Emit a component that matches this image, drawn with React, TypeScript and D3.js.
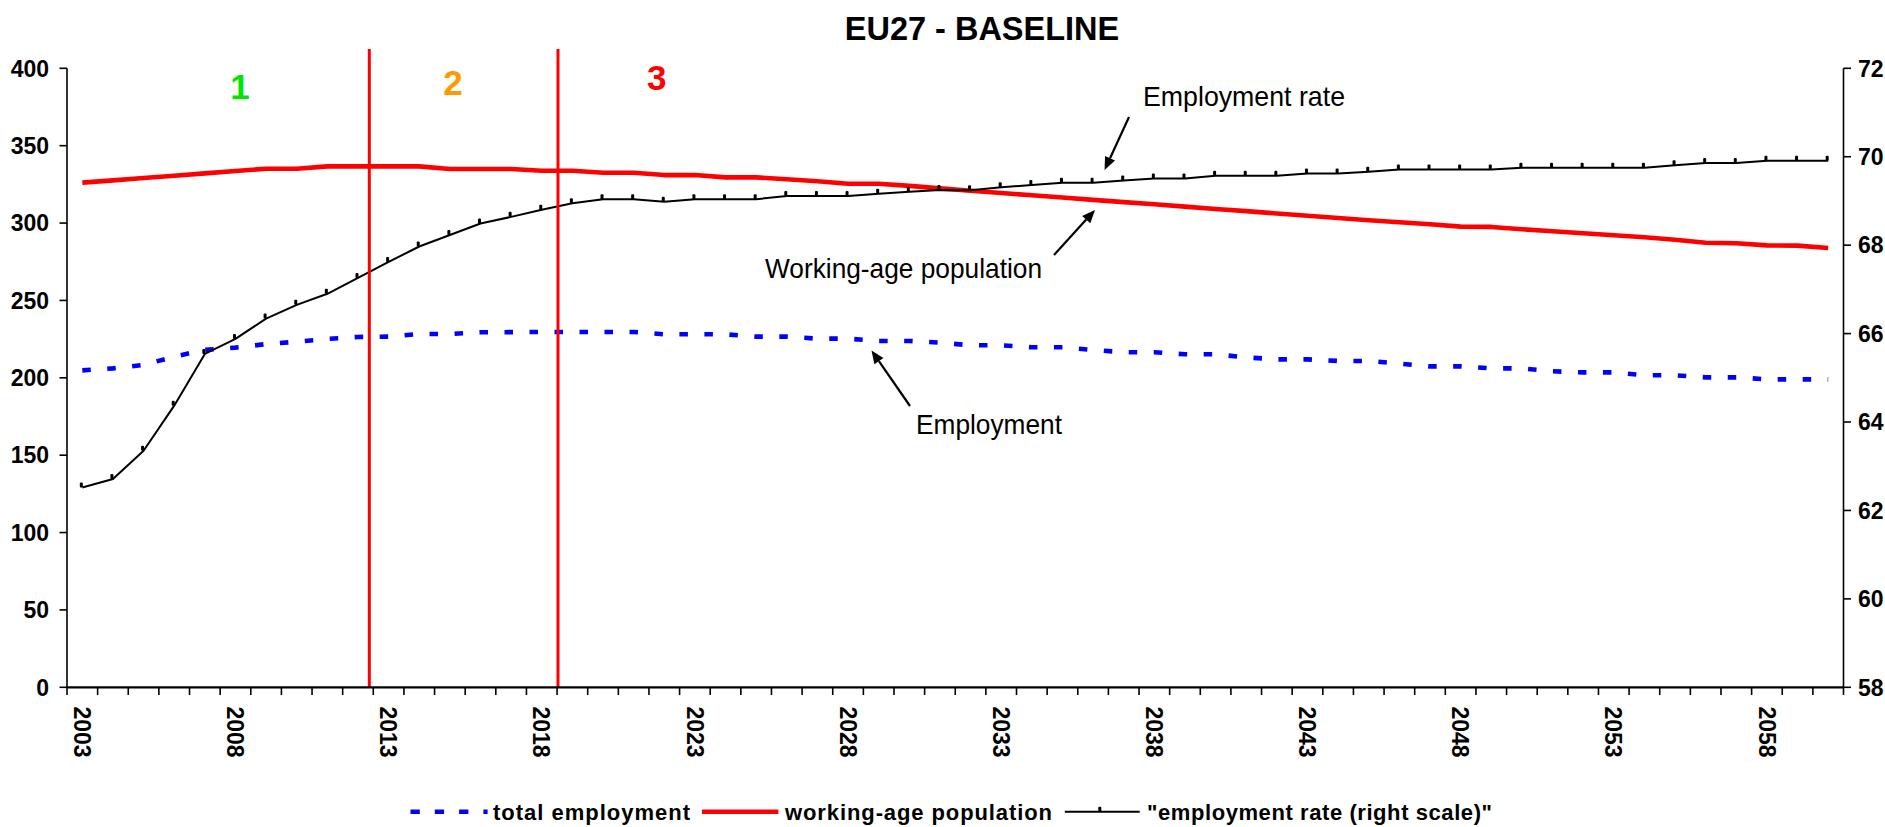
import React, { useEffect } from "react";
import * as d3 from "d3";

// ---------- DATA ----------
const years: number[] = [
  2003, 2004, 2005, 2006, 2007, 2008, 2009, 2010, 2011, 2012,
  2013, 2014, 2015, 2016, 2017, 2018, 2019, 2020, 2021, 2022,
  2023, 2024, 2025, 2026, 2027, 2028, 2029, 2030, 2031, 2032,
  2033, 2034, 2035, 2036, 2037, 2038, 2039, 2040, 2041, 2042,
  2043, 2044, 2045, 2046, 2047, 2048, 2049, 2050, 2051, 2052,
  2053, 2054, 2055, 2056, 2057, 2058, 2059, 2060,
];

// total employment (millions, left scale)
const totalEmployment: number[] = [
  204.8, 206.1, 208.3, 213.7, 218.0, 219.5, 221.8, 223.3, 225.1, 226.4,
  226.6, 228.3, 228.3, 229.4, 229.5, 229.6, 229.6, 229.6, 229.6, 228.1,
  228.1, 228.1, 226.6, 226.6, 225.3, 225.3, 223.8, 223.8, 222.7, 221.0,
  221.0, 219.7, 219.7, 218.0, 216.5, 216.5, 215.2, 215.2, 213.2, 211.9,
  211.9, 210.9, 210.9, 209.1, 207.4, 207.4, 206.1, 206.1, 204.2, 203.5,
  203.5, 201.6, 201.6, 200.3, 200.3, 199.0, 199.0, 199.0,
];

// working-age population (millions, left scale)
const workingAgePopulation: number[] = [
  326.1, 327.6, 329.1, 330.6, 332.1, 333.6, 335.1, 335.1, 336.6, 336.6,
  336.6, 336.6, 334.9, 334.9, 334.9, 333.8, 333.8, 332.5, 332.5, 331.0,
  331.0, 329.5, 329.5, 328.3, 327.0, 325.4, 325.4, 324.0, 322.4, 320.9,
  319.4, 318.0, 316.5, 315.0, 313.5, 312.1, 310.6, 309.1, 307.7, 306.2,
  304.7, 303.3, 301.8, 300.5, 299.2, 297.7, 297.5, 296.0, 294.7, 293.4,
  292.1, 290.8, 289.2, 287.3, 286.9, 285.6, 285.4, 283.9,
];

// employment rate (%, right scale)
const employmentRate: number[] = [
  62.52, 62.71, 63.35, 64.37, 65.54, 65.88, 66.34, 66.65, 66.90, 67.26,
  67.62, 67.97, 68.23, 68.49, 68.64, 68.80, 68.95, 69.04, 69.04, 68.98,
  69.04, 69.04, 69.04, 69.11, 69.11, 69.11, 69.16, 69.21, 69.25, 69.24,
  69.31, 69.36, 69.41, 69.41, 69.46, 69.51, 69.51, 69.57, 69.57, 69.57,
  69.62, 69.62, 69.66, 69.71, 69.71, 69.71, 69.71, 69.75, 69.75, 69.75,
  69.75, 69.75, 69.81, 69.86, 69.86, 69.91, 69.91, 69.91,
];

const leftTicks: number[] = [0, 50, 100, 150, 200, 250, 300, 350, 400];
const rightTicks: number[] = [58, 60, 62, 64, 66, 68, 70, 72];
const xLabelYears: number[] = [2003, 2008, 2013, 2018, 2023, 2028, 2033, 2038, 2043, 2048, 2053, 2058];

// phase dividers (year positions) and phase labels (year positions)
const dividerYears: number[] = [2012.37, 2018.53];
const phaseLabels: string[] = ["1", "2", "3"];
const phaseLabelYears: number[] = [2008.15, 2015.1, 2021.75];
const phaseColors: string[] = ["#00E600", "#FF9900", "#FF0000"];

const title = "EU27 - BASELINE";
const legendLabels: string[] = ["total employment", "working-age population", '"employment rate (right scale)"'];

// ---------- LAYOUT ----------
const W = 1885;
const H = 827;
const M = { left: 67, right: 1843.5, top: 68.3, bottom: 687.3 };
const FONT = "'Liberation Sans', Arial, Helvetica, sans-serif";
const BLUE = "#0000FF";
const RED = "#FF0000";

function Arrow({ x1, y1, x2, y2 }: { x1: number; y1: number; x2: number; y2: number }) {
  const ang = Math.atan2(y2 - y1, x2 - x1);
  const len = 13;
  const half = 5.5;
  const bx = x2 - len * Math.cos(ang);
  const by = y2 - len * Math.sin(ang);
  const px = -Math.sin(ang) * half;
  const py = Math.cos(ang) * half;
  return (
    <g>
      <line x1={x1} y1={y1} x2={bx} y2={by} stroke="#000" strokeWidth={2.2} />
      <polygon points={`${x2},${y2} ${bx + px},${by + py} ${bx - px},${by - py}`} fill="#000" />
    </g>
  );
}

export default function App() {
  useEffect(() => {
    document.body.style.margin = "0";
    document.body.style.overflow = "hidden";
  }, []);

  const x = d3.scaleBand<number>().domain(years).range([M.left, M.right]).paddingInner(0).paddingOuter(0);
  const bw = x.bandwidth();
  const cx = (yr: number) => (x(yr) as number) + bw / 2;
  const xLin = d3
    .scaleLinear()
    .domain([years[0], years[years.length - 1]])
    .range([cx(years[0]), cx(years[years.length - 1])]);
  const yL = d3.scaleLinear().domain([0, 400]).range([M.bottom, M.top]);
  const yR = d3.scaleLinear().domain([58, 72]).range([M.bottom, M.top]);

  const lineL = d3
    .line<number>()
    .x((_, i) => cx(years[i]))
    .y((d) => yL(d));
  const lineR = d3
    .line<number>()
    .x((_, i) => cx(years[i]))
    .y((d) => yR(d));

  const boundaries = years.map((yr) => x(yr) as number).concat([M.right]);

  return (
    <svg
      width={W}
      height={H}
      viewBox={`0 0 ${W} ${H}`}
      style={{ position: "absolute", left: 0, top: 0, background: "#fff" }}
      fontFamily={FONT}
    >
      <rect x={0} y={0} width={W} height={H} fill="#fff" />

      {/* title */}
      <text x={982} y={39.5} textAnchor="middle" fontSize={32.5} fontWeight="bold" fill="#000">
        {title}
      </text>

      {/* series */}
      <path d={lineL(totalEmployment) || ""} fill="none" stroke={BLUE} strokeWidth={4.6} strokeDasharray="8.5 16.5" />
      <path d={lineL(workingAgePopulation) || ""} fill="none" stroke={RED} strokeWidth={4.6} strokeLinejoin="round" />
      <path d={lineR(employmentRate) || ""} fill="none" stroke="#000" strokeWidth={2} strokeLinejoin="round" />
      {employmentRate.map((v, i) => (
        <rect key={"m" + i} x={cx(years[i]) - 2.5} y={yR(v) - 5} width={3} height={5} rx={1} fill="#000" />
      ))}

      {/* phase dividers */}
      {dividerYears.map((yr, i) => (
        <line key={"dv" + i} x1={xLin(yr)} x2={xLin(yr)} y1={49} y2={M.bottom} stroke={RED} strokeWidth={3} />
      ))}
      {phaseLabels.map((t, i) => (
        <text
          key={"pl" + i}
          x={xLin(phaseLabelYears[i])}
          y={[99, 95, 90][i]}
          textAnchor="middle"
          fontSize={35}
          fontWeight="bold"
          fill={phaseColors[i]}
        >
          {t}
        </text>
      ))}

      {/* axes */}
      <line x1={M.left} x2={M.left} y1={M.top} y2={M.bottom} stroke="#000" strokeWidth={1.6} />
      <line x1={M.right} x2={M.right} y1={M.top} y2={M.bottom} stroke="#000" strokeWidth={1.6} />
      <line x1={M.left} x2={M.right} y1={M.bottom} y2={M.bottom} stroke="#000" strokeWidth={2.2} />
      {leftTicks.map((t) => (
        <g key={"lt" + t}>
          <line x1={M.left - 7.5} x2={M.left} y1={yL(t)} y2={yL(t)} stroke="#000" strokeWidth={1.6} />
          <text x={49} y={yL(t)} dy="0.36em" textAnchor="end" fontSize={23} fontWeight="bold" fill="#000">
            {t}
          </text>
        </g>
      ))}
      {rightTicks.map((t) => (
        <g key={"rt" + t}>
          <line x1={M.right} x2={M.right + 7.5} y1={yR(t)} y2={yR(t)} stroke="#000" strokeWidth={1.6} />
          <text x={1858} y={yR(t)} dy="0.36em" textAnchor="start" fontSize={23} fontWeight="bold" fill="#000">
            {t}
          </text>
        </g>
      ))}
      {boundaries.map((bx, i) => (
        <line key={"xt" + i} x1={bx} x2={bx} y1={M.bottom} y2={M.bottom + 7.7} stroke="#000" strokeWidth={1.6} />
      ))}
      {xLabelYears.map((yr) => (
        <text
          key={"xl" + yr}
          transform={`translate(${cx(yr)},${706.5}) rotate(90)`}
          dy="0.36em"
          textAnchor="start"
          fontSize={23}
          fontWeight="bold"
          fill="#000"
        >
          {yr}
        </text>
      ))}

      {/* annotations */}
      <text x={1143} y={106} fontSize={28.5} fill="#000" textLength={202} lengthAdjust="spacingAndGlyphs">
        Employment rate
      </text>
      <Arrow x1={1129} y1={117} x2={1104.6} y2={170} />
      <text x={765} y={278.3} fontSize={28.5} fill="#000" textLength={277} lengthAdjust="spacingAndGlyphs">
        Working-age population
      </text>
      <Arrow x1={1054} y1={255} x2={1095} y2={210} />
      <text x={916} y={434} fontSize={28.5} fill="#000" textLength={146} lengthAdjust="spacingAndGlyphs">
        Employment
      </text>
      <Arrow x1={910} y1={406} x2={871.5} y2={350.5} />

      {/* legend */}
      <line x1={410.5} x2={487.6} y1={811.7} y2={811.7} stroke={BLUE} strokeWidth={4.6} strokeDasharray="9.3 15" />
      <text x={493} y={819.5} fontSize={22} fontWeight="bold" fill="#000" textLength={197} lengthAdjust="spacing">
        {legendLabels[0]}
      </text>
      <line x1={702} x2={778.4} y1={811.7} y2={811.7} stroke={RED} strokeWidth={4.6} />
      <text x={785} y={819.5} fontSize={22} fontWeight="bold" fill="#000" textLength={267} lengthAdjust="spacing">
        {legendLabels[1]}
      </text>
      <line x1={1064.8} x2={1139.7} y1={811.7} y2={811.7} stroke="#000" strokeWidth={2} />
      <rect x={1098.3} y={806.7} width={3} height={5} rx={1} fill="#000" />
      <text x={1147} y={819.5} fontSize={22} fontWeight="bold" fill="#000" textLength={345} lengthAdjust="spacing">
        {legendLabels[2]}
      </text>
    </svg>
  );
}
